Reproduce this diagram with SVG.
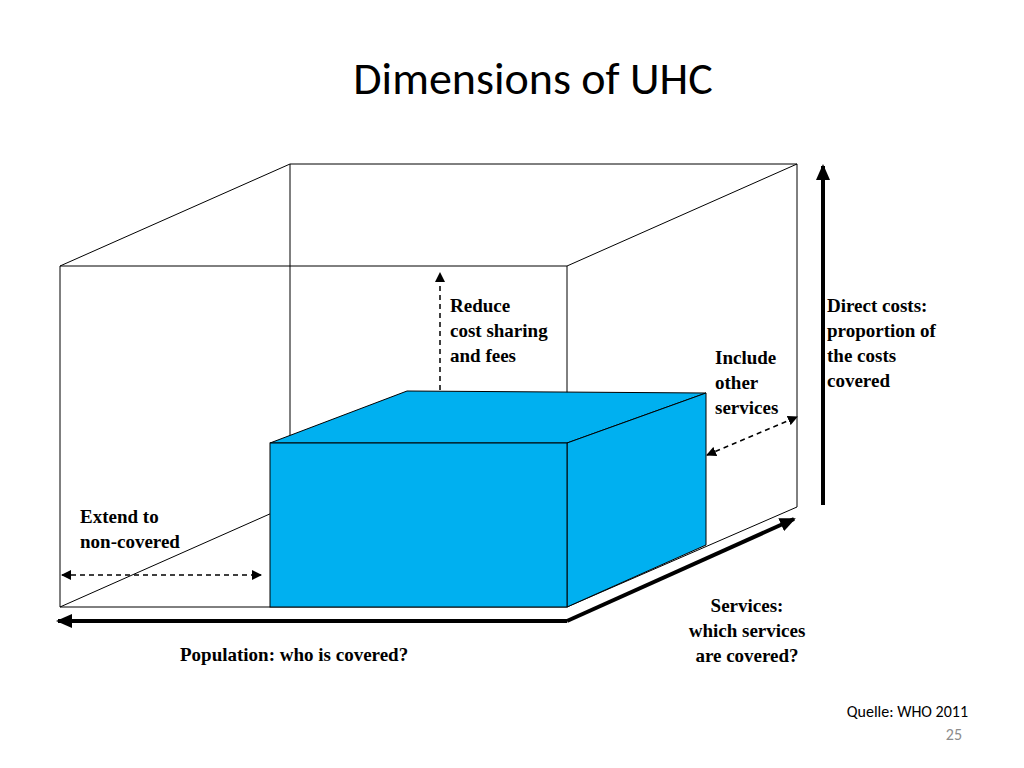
<svg xmlns="http://www.w3.org/2000/svg" width="1024" height="768" viewBox="0 0 1024 768">
<style>
.e{stroke:#000;stroke-width:1;fill:none}
.t{font-family:"Liberation Serif",serif;font-size:19px;font-weight:bold;fill:#000}
.d{stroke:#000;stroke-width:1.5;stroke-dasharray:5,4;fill:none}
.k{stroke:#000;stroke-width:4;fill:none}
</style>
<defs>
<marker id="a" markerWidth="10" markerHeight="10" refX="9" refY="5" orient="auto-start-reverse" markerUnits="userSpaceOnUse"><path d="M0,0 L10,5 L0,10 z" fill="#000"/></marker>
<marker id="b" markerWidth="16" markerHeight="14" refX="14" refY="7" orient="auto" markerUnits="userSpaceOnUse"><path d="M0,0 L16,7 L0,14 z" fill="#000"/></marker>
</defs>
<rect width="1024" height="768" fill="#fff"/>
<text x="533" y="94" text-anchor="middle" font-family="Calibri,'Open Sans','Liberation Sans',sans-serif" font-size="46" fill="#000">Dimensions of UHC</text>
<g id="outerbox">
<path class="e" d="M60,266 H567 V607 H60 Z M60,266 L290,164 H797 V507 L567,607 M567,266 L797,164 M290,164 V505 M60,607 L290,505"/>
</g>
<g id="bluebox">
<path d="M270,443 L407,391 L706,393 L567,443 Z" fill="#00b0f0" stroke="#000"/>
<path d="M567,443 L706,393 V545 L567,607 Z" fill="#00b0f0" stroke="#000"/>
<rect x="270" y="443" width="297" height="164" fill="#00b0f0" stroke="#000"/>
</g>
<g id="connectors">
<path class="k" d="M567,621 H58" marker-end="url(#b)"/>
<path class="k" d="M567,621 L794,519" marker-end="url(#b)"/>
<path class="k" d="M823,505 V166" marker-end="url(#b)"/>
<path class="d" d="M440,390 V273" marker-end="url(#a)"/>
<path class="d" d="M62,575 H261" marker-start="url(#a)" marker-end="url(#a)"/>
<path class="d" d="M707,455 L797,417" marker-start="url(#a)" marker-end="url(#a)"/>
</g>
<g id="labels">
<text class="t" x="450" y="312">Reduce</text>
<text class="t" x="450" y="337">cost sharing</text>
<text class="t" x="450" y="362">and fees</text>
<text class="t" x="715" y="364">Include</text>
<text class="t" x="715" y="389">other</text>
<text class="t" x="715" y="414">services</text>
<text class="t" x="827" y="312">Direct costs:</text>
<text class="t" x="827" y="337">proportion of</text>
<text class="t" x="827" y="362">the costs</text>
<text class="t" x="827" y="387">covered</text>
<text class="t" x="80" y="523">Extend to</text>
<text class="t" x="80" y="548">non-covered</text>
<text class="t" x="180" y="661">Population: who is covered?</text>
<text class="t" x="747" y="612" text-anchor="middle">Services:</text>
<text class="t" x="747" y="637" text-anchor="middle">which services</text>
<text class="t" x="747" y="662" text-anchor="middle">are covered?</text>
<text x="968" y="717" text-anchor="end" font-family="Calibri,'Open Sans','Liberation Sans',sans-serif" font-size="16" fill="#000">Quelle: WHO 2011</text>
<text x="962" y="740" text-anchor="end" font-family="Calibri,'Open Sans','Liberation Sans',sans-serif" font-size="16" fill="#8c8c8c">25</text>
</g>
</svg>
